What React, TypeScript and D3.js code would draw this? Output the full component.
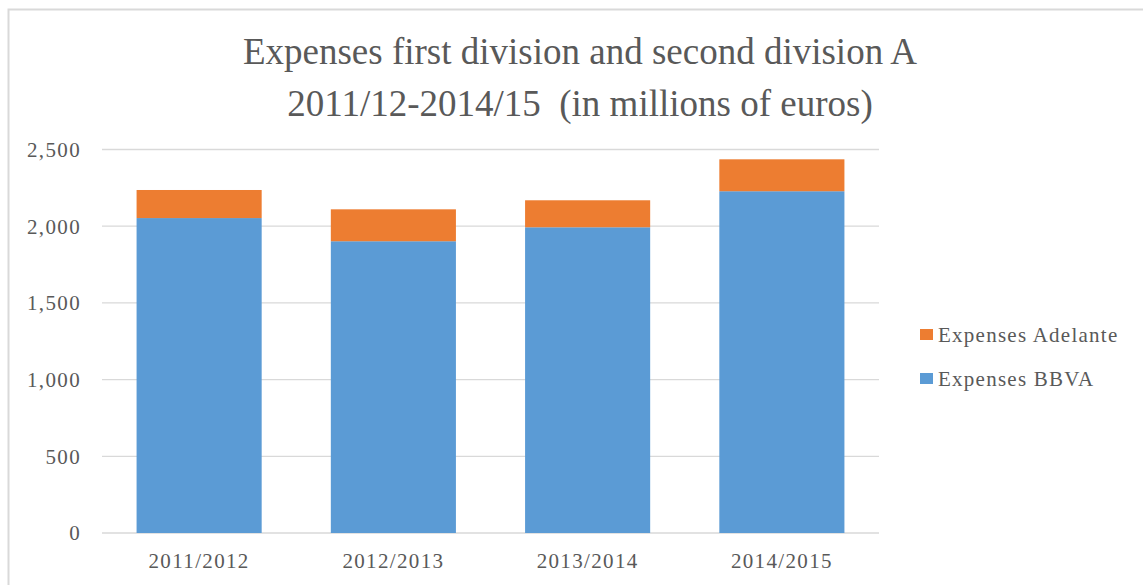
import React from "react";
import * as d3 from "d3";

const categories = ["2011/2012", "2012/2013", "2013/2014", "2014/2015"];
const bbva = [2053, 1902, 1993, 2228];
const adelante = [183, 208, 176, 208];
const yTicks = [0, 500, 1000, 1500, 2000, 2500];
const seriesNames = ["Expenses BBVA", "Expenses Adelante"];
const titleLines = [
  "Expenses first division and second division A",
  "2011/12-2014/15  (in millions of euros)",
];

const W = 1143;
const H = 585;
const BLUE = "#5B9BD5";
const ORANGE = "#ED7D31";
const TEXT = "#595959";
const GRID = "#d9d9d9";
const FONT = "'Liberation Serif', 'Times New Roman', serif";

export default function App() {
  const x = d3
    .scaleBand<string>()
    .domain(categories)
    .range([102, 879])
    .paddingInner(0.356)
    .paddingOuter(0.178);
  const y = d3.scaleLinear().domain([0, 2500]).range([533, 149.5]);

  const rows = categories.map((c, i) => ({ cat: c, bbva: bbva[i], adelante: adelante[i] }));
  const stacked = d3.stack<any>().keys(["bbva", "adelante"])(rows);
  const colors = [BLUE, ORANGE];
  const fmt = d3.format(",");

  const legendItems = [
    { name: seriesNames[1], color: ORANGE, y: 342 },
    { name: seriesNames[0], color: BLUE, y: 386 },
  ];

  return (
    <svg
      width={W}
      height={H}
      style={{ position: "absolute", left: 0, top: 0, background: "#fff" }}
      fontFamily={FONT}
    >
      <rect x={0} y={0} width={W} height={H} fill="#fff" />
      <rect x={8.5} y={9.5} width={W + 20} height={H + 20} fill="none" stroke={GRID} strokeWidth={2} />
      {titleLines.map((t, i) => (
        <text
          key={i}
          x={580}
          y={64 + i * 52}
          textAnchor="middle"
          fontSize={37}
          fill={TEXT}
          style={{ whiteSpace: "pre" }}
        >
          {t}
        </text>
      ))}
      {yTicks.map((t) => (
        <g key={t}>
          <line x1={102} x2={879} y1={y(t)} y2={y(t)} stroke={GRID} strokeWidth={1.3} />
          <text
            x={81}
            y={y(t)}
            dy="0.35em"
            textAnchor="end"
            fontSize={21}
            letterSpacing={1.35}
            fill={TEXT}
          >
            {fmt(t)}
          </text>
        </g>
      ))}
      {stacked.map((s, si) =>
        s.map((d, i) => (
          <rect
            key={si + "-" + i}
            x={x(categories[i])!}
            y={y(d[1])}
            width={x.bandwidth()}
            height={y(d[0]) - y(d[1])}
            fill={colors[si]}
          />
        ))
      )}
      {categories.map((c) => (
        <text
          key={c}
          x={x(c)! + x.bandwidth() / 2}
          y={568}
          textAnchor="middle"
          fontSize={21}
          letterSpacing={1.35}
          fill={TEXT}
        >
          {c}
        </text>
      ))}
      {legendItems.map((l) => (
        <g key={l.name}>
          <rect x={920} y={l.y - 13} width={13} height={11} fill={l.color} />
          <text x={938} y={l.y} fontSize={21} letterSpacing={1.25} fill={TEXT}>
            {l.name}
          </text>
        </g>
      ))}
    </svg>
  );
}
